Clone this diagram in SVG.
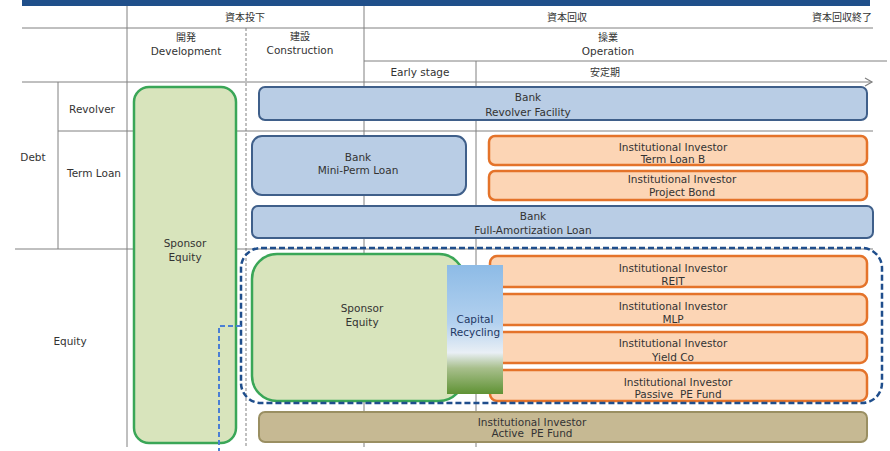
<svg xmlns="http://www.w3.org/2000/svg" width="890" height="451" viewBox="0 0 890 451">
<defs>
<style>
text{font-family:"DejaVu Sans","Noto Sans CJK JP",sans-serif;font-size:10.5px;fill:#333;text-anchor:middle;white-space:pre}
.cjk{font-family:"Noto Sans CJK JP","DejaVu Sans",sans-serif;font-size:10px}
.g{stroke:#808080;stroke-width:1;fill:none}
.gd{stroke:#808080;stroke-width:1;fill:none;stroke-dasharray:3 2}
.blue{fill:#b9cde5;stroke:#3f5f8a;stroke-width:2}
.org{fill:#fcd5b5;stroke:#e4732a;stroke-width:2.5}
.grn{fill:#d8e4bc;stroke:#3aa657;stroke-width:2.5}
.tan{fill:#c6b993;stroke:#9a8f62;stroke-width:2}
</style>
<linearGradient id="cr" x1="0" y1="0" x2="0" y2="1">
<stop offset="0" stop-color="#8dbbe6"/>
<stop offset="0.45" stop-color="#b3d1ef"/>
<stop offset="0.68" stop-color="#e9eff5"/>
<stop offset="0.8" stop-color="#a8bf8c"/>
<stop offset="1" stop-color="#5f9234"/>
</linearGradient>
<marker id="ar" markerWidth="10" markerHeight="10" refX="8" refY="5" orient="auto" markerUnits="userSpaceOnUse">
<path d="M1,1 L8,5 L1,9" fill="none" stroke="#808080" stroke-width="1.2"/>
</marker>
</defs>
<rect x="22" y="0" width="848" height="6" fill="#1f4f8a"/>
<g id="grid">
<line class="g" x1="22" y1="28" x2="873" y2="28"/>
<line class="g" x1="364" y1="61" x2="887" y2="61"/>
<line class="g" x1="22" y1="82" x2="872" y2="82" marker-end="url(#ar)"/>
<line class="g" x1="58" y1="131" x2="873" y2="131"/>
<line class="g" x1="15" y1="249" x2="873" y2="249"/>
<line class="g" x1="58" y1="82" x2="58" y2="249"/>
<line class="g" x1="127" y1="6" x2="127" y2="447"/>
<line class="gd" x1="246" y1="28" x2="246" y2="447"/>
<line class="g" x1="364" y1="6" x2="364" y2="447"/>
<line class="g" x1="476" y1="61" x2="476" y2="447"/>
</g>
<g id="headers">
<text class="cjk" x="245" y="21">資本投下</text>
<text class="cjk" x="567" y="21">資本回収</text>
<text class="cjk" x="872" y="21" style="text-anchor:end">資本回収終了</text>
<text class="cjk" x="186" y="41">開発</text>
<text x="186" y="55">Development</text>
<text class="cjk" x="300" y="40">建設</text>
<text x="300" y="54">Construction</text>
<text class="cjk" x="608" y="41">操業</text>
<text x="608" y="55">Operation</text>
<text x="420" y="76">Early stage</text>
<text class="cjk" x="605" y="76">安定期</text>
<text x="92" y="113">Revolver</text>
<text x="33" y="161">Debt</text>
<text x="94" y="177">Term Loan</text>
<text x="70" y="345">Equity</text>
</g>
<g id="sponsor-equity-tall">
<rect class="grn" x="134" y="87" width="102" height="356" rx="15"/>
<text x="185" y="247">Sponsor</text>
<text x="185" y="261">Equity</text>
</g>
<g id="bank-revolver">
<rect class="blue" x="259" y="87" width="608" height="33" rx="6"/>
<text x="528" y="101">Bank</text>
<text x="528" y="116">Revolver Facility</text>
</g>
<g id="bank-miniperm">
<rect class="blue" x="252" y="136" width="214" height="59" rx="10"/>
<text x="358" y="161">Bank</text>
<text x="358" y="174">Mini-Perm Loan</text>
</g>
<g id="term-loan-b">
<rect class="org" x="489" y="136" width="378" height="29" rx="6"/>
<text x="673" y="151">Institutional Investor</text>
<text x="673" y="163">Term Loan B</text>
</g>
<g id="project-bond">
<rect class="org" x="489" y="171" width="378" height="29" rx="6"/>
<text x="682" y="183">Institutional Investor</text>
<text x="682" y="196">Project Bond</text>
</g>
<g id="bank-full-amort">
<rect class="blue" x="252" y="206" width="621" height="32" rx="6"/>
<text x="533" y="220">Bank</text>
<text x="533" y="234">Full-Amortization Loan</text>
</g>
<g id="sponsor-equity-inner">
<rect class="grn" x="252" y="254" width="212" height="147" rx="25"/>
<text x="362" y="312">Sponsor</text>
<text x="362" y="326">Equity</text>
</g>
<g id="reit">
<rect class="org" x="490" y="256" width="377" height="31" rx="7"/>
<text x="673" y="272">Institutional Investor</text>
<text x="673" y="285">REIT</text>
</g>
<g id="mlp">
<rect class="org" x="490" y="294" width="377" height="31" rx="7"/>
<text x="673" y="310">Institutional Investor</text>
<text x="673" y="323">MLP</text>
</g>
<g id="yieldco">
<rect class="org" x="490" y="332" width="377" height="31" rx="7"/>
<text x="673" y="347">Institutional Investor</text>
<text x="673" y="361">Yield Co</text>
</g>
<g id="passive-pe">
<rect class="org" x="490" y="370" width="377" height="31" rx="7"/>
<text x="678" y="386">Institutional Investor</text>
<text x="678" y="398">Passive  PE Fund</text>
</g>
<g id="capital-recycling">
<rect x="447" y="265" width="56" height="129" fill="url(#cr)"/>
<text x="475" y="323" style="fill:#1f3864">Capital</text>
<text x="475" y="336" style="fill:#1f3864">Recycling</text>
</g>
<g id="equity-group">
<rect x="241" y="248" width="641" height="155" rx="20" fill="none" stroke="#1f4e8c" stroke-width="2.5" stroke-dasharray="6 3"/>
</g>
<g id="active-pe">
<rect class="tan" x="259" y="412" width="608" height="30" rx="6"/>
<text x="532" y="426">Institutional Investor</text>
<text x="532" y="437">Active  PE Fund</text>
</g>
<g id="connectors">
<path d="M241,326 H219 V451" fill="none" stroke="#4a7fd4" stroke-width="2" stroke-dasharray="5 3"/>
</g>
</svg>
